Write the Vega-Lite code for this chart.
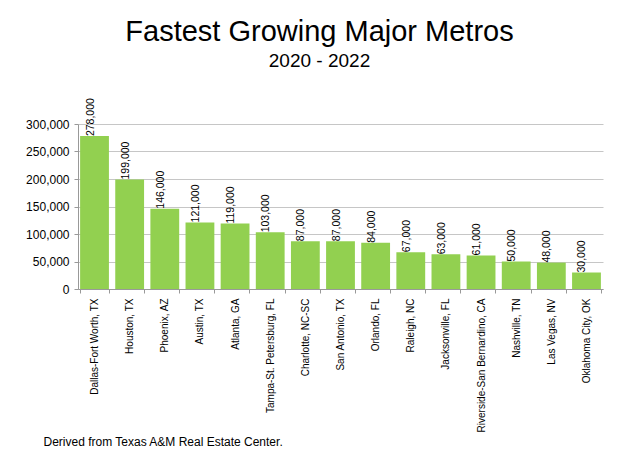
{
  "$schema": "https://vega.github.io/schema/vega-lite/v6.json",
  "autosize": {"type": "none"},
  "padding": {"left": 78, "top": 124, "right": 23, "bottom": 163},
  "width": 525,
  "height": 165,
  "background": "white",
  "title": {
    "text": "Fastest Growing Major Metros",
    "subtitle": "2020 - 2022",
    "anchor": "middle",
    "dx": -21,
    "offset": 27,
    "font": "Liberation Sans",
    "fontSize": 29,
    "fontWeight": "normal",
    "color": "black",
    "subtitleFont": "Liberation Sans",
    "subtitleFontSize": 19,
    "subtitleColor": "black",
    "subtitlePadding": 5
  },
  "data": {
    "values": [
      {"metro": "Dallas-Fort Worth, TX", "growth": 278000},
      {"metro": "Houston, TX", "growth": 199000},
      {"metro": "Phoenix, AZ", "growth": 146000},
      {"metro": "Austin, TX", "growth": 121000},
      {"metro": "Atlanta, GA", "growth": 119000},
      {"metro": "Tampa-St. Petersburg, FL", "growth": 103000},
      {"metro": "Charlotte, NC-SC", "growth": 87000},
      {"metro": "San Antonio, TX", "growth": 87000},
      {"metro": "Orlando, FL", "growth": 84000},
      {"metro": "Raleigh, NC", "growth": 67000},
      {"metro": "Jacksonville, FL", "growth": 63000},
      {"metro": "Riverside-San Bernardino, CA", "growth": 61000},
      {"metro": "Nashville, TN", "growth": 50000},
      {"metro": "Las Vegas, NV", "growth": 48000},
      {"metro": "Oklahoma City, OK", "growth": 30000}
    ]
  },
  "encoding": {
    "x": {
      "field": "metro",
      "type": "nominal",
      "sort": null,
      "scale": {"paddingInner": 0.18, "paddingOuter": 0.06},
      "axis": {
        "title": "Derived from Texas A&M Real Estate Center.",
        "titleFont": "Liberation Sans",
        "titleFontSize": 12,
        "titleFontWeight": "normal",
        "titleColor": "black",
        "titleAnchor": "start",
        "titleAlign": "left",
        "titleBaseline": "alphabetic",
        "titleX": -35,
        "titleY": 156,
        "labelAngle": -90,
        "labelFont": "Liberation Sans",
        "labelFontSize": 10,
        "labelColor": "black",
        "labelLimit": 200,
        "labelPadding": 5,
        "tickBand": "extent",
        "tickSize": 4,
        "tickColor": "#999999",
        "domainColor": "#999999"
      }
    },
    "y": {
      "field": "growth",
      "type": "quantitative",
      "scale": {"domain": [0, 300000], "nice": false},
      "axis": {
        "title": null,
        "values": [0, 50000, 100000, 150000, 200000, 250000, 300000],
        "format": ",d",
        "labelFont": "Liberation Sans",
        "labelFontSize": 12,
        "labelColor": "black",
        "labelPadding": 5,
        "tickSize": 4,
        "tickColor": "#999999",
        "domainColor": "#999999",
        "gridColor": "#c6c6c6",
        "grid": true
      }
    }
  },
  "layer": [
    {"mark": {"type": "bar", "color": "#92D050"}},
    {
      "mark": {
        "type": "text",
        "angle": -90,
        "align": "left",
        "baseline": "middle",
        "dy": -4,
        "font": "Liberation Sans",
        "fontSize": 10.5,
        "color": "black"
      },
      "encoding": {
        "text": {"field": "growth", "type": "quantitative", "format": ",d"}
      }
    }
  ],
  "config": {
    "view": {"stroke": null}
  }
}
